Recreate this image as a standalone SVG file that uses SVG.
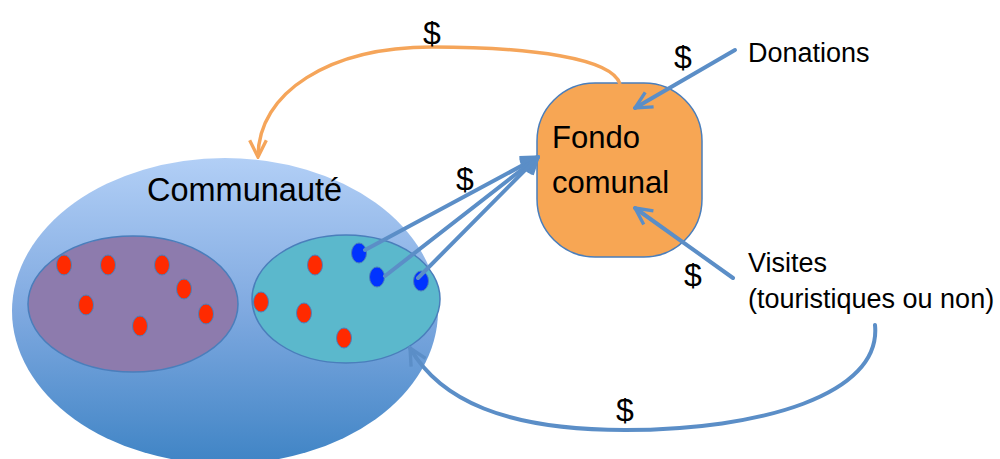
<svg xmlns="http://www.w3.org/2000/svg" width="1000" height="459" viewBox="0 0 1000 459">
<defs>
<linearGradient id="gBig" x1="0" y1="0" x2="0" y2="1">
<stop offset="0" stop-color="#b2cff6"/>
<stop offset="0.5" stop-color="#7fa9e0"/>
<stop offset="1" stop-color="#3f84c5"/>
</linearGradient>
<marker id="aBlue" viewBox="0 0 12 12" refX="11" refY="6" markerWidth="20" markerHeight="20" markerUnits="userSpaceOnUse" orient="auto">
<path d="M1,1 L11,6 L1,11" fill="none" stroke="#5b8ec7" stroke-width="2" stroke-linejoin="miter"/>
</marker>
<marker id="aOrange" viewBox="0 0 12 12" refX="11" refY="6" markerWidth="20" markerHeight="20" markerUnits="userSpaceOnUse" orient="auto">
<path d="M1,1 L11,6 L1,11" fill="none" stroke="#f5a55a" stroke-width="2"/>
</marker>
</defs>
<style>
text{font-family:"Liberation Sans",Arial,sans-serif;fill:#000}
.lbl{font-size:27px}
.big{font-size:31px}
.dollar{font-size:32px;text-anchor:middle}
.red{fill:#ff2a00;stroke:#4a7ebb;stroke-width:1}
.blue{fill:#0033ff;stroke:#4a7ebb;stroke-width:1}
.conn{fill:none;stroke:#5b8ec7;stroke-width:4;stroke-linecap:round}
</style>

<g id="communaute">
<ellipse cx="225" cy="311" rx="213" ry="153" fill="url(#gBig)"/>
<text class="big" x="147" y="201" style="font-size:32.5px">Communauté</text>
</g>

<g id="groupe1">
<ellipse cx="133" cy="304" rx="105" ry="68" fill="#8d7bad" stroke="#4a7ebb" stroke-width="1.5"/>
<ellipse class="red" cx="64" cy="265" rx="7.5" ry="10"/>
<ellipse class="red" cx="108" cy="265" rx="7.5" ry="10"/>
<ellipse class="red" cx="162" cy="265" rx="7.5" ry="10"/>
<ellipse class="red" cx="184" cy="289" rx="7.5" ry="10"/>
<ellipse class="red" cx="86" cy="305" rx="7.5" ry="10"/>
<ellipse class="red" cx="206" cy="314" rx="7.5" ry="10"/>
<ellipse class="red" cx="140" cy="326" rx="7.5" ry="10"/>
</g>

<g id="groupe2">
<ellipse cx="346" cy="299" rx="94" ry="64" fill="#5bb8cc" stroke="#4a7ebb" stroke-width="1.5"/>
<ellipse class="red" cx="315" cy="265" rx="7.5" ry="10"/>
<ellipse class="red" cx="261" cy="302" rx="7.5" ry="10"/>
<ellipse class="red" cx="304" cy="313" rx="7.5" ry="10"/>
<ellipse class="red" cx="344" cy="338" rx="7.5" ry="10"/>
<ellipse class="blue" cx="359" cy="253" rx="7.5" ry="10"/>
<ellipse class="blue" cx="377" cy="277" rx="7.5" ry="10"/>
<ellipse class="blue" cx="421" cy="281" rx="7.5" ry="10"/>
</g>

<g id="fondo">
<rect x="537" y="83" width="165" height="174" rx="58" ry="58" fill="#f7a654" stroke="#4a7ebb" stroke-width="1.5"/>
<text class="big" x="552" y="148">Fondo</text>
<text class="big" x="552" y="193">comunal</text>
</g>

<g id="donations">
<text class="lbl" x="748" y="62">Donations</text>
</g>

<g id="visites">
<text class="lbl" x="748" y="272">Visites</text>
<text class="lbl" x="748" y="308">(touristiques ou non)</text>
</g>

<g id="connectors">
<path d="M620,84 C612,58 530,47 432,47 C330,47 258,92 258,157" fill="none" stroke="#f5a55a" stroke-width="3.5" marker-end="url(#aOrange)"/>
<path class="conn" d="M365,250 L538,157" marker-end="url(#aBlue)"/>
<path class="conn" d="M385,276 L538,157" marker-end="url(#aBlue)"/>
<path class="conn" d="M418,278 L538,157" marker-end="url(#aBlue)"/>
<path class="conn" d="M735,50 L635,108" marker-end="url(#aBlue)"/>
<path class="conn" d="M733,278 L635,208" marker-end="url(#aBlue)"/>
<path class="conn" d="M875,325 C882,395 760,430 625,430 C505,430 440,400 410,348" marker-end="url(#aBlue)"/>
<text class="dollar" x="432" y="44">$</text>
<text class="dollar" x="683" y="68">$</text>
<text class="dollar" x="465" y="190">$</text>
<text class="dollar" x="693" y="286">$</text>
<text class="dollar" x="625" y="421">$</text>
</g>
</svg>
